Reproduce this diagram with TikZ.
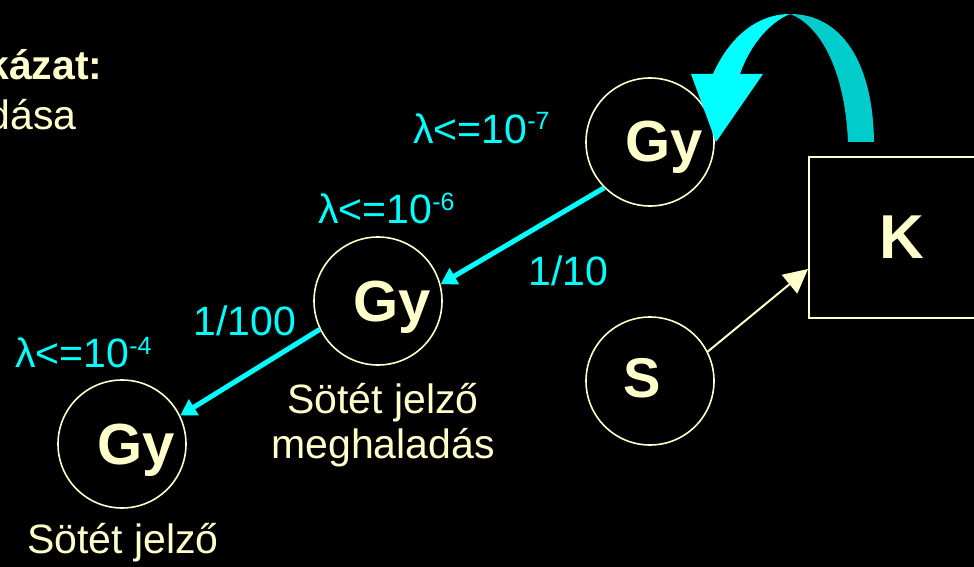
\documentclass[tikz,border=0pt]{standalone}
\usepackage{fontspec}
\setmainfont{Liberation Sans}
\usetikzlibrary{arrows.meta}
\definecolor{SlideText}{RGB}{255,255,204}
\definecolor{SlideCyan}{RGB}{0,255,255}
\definecolor{SlideTeal}{RGB}{0,204,204}
\newcommand\lamexp[1]{\raisebox{6.5pt}{\fontsize{12.5}{13}\selectfont #1}}
\tikzset{
	state/.style={circle, draw=SlideText, line width=0.8pt, minimum size=64pt, inner sep=0pt},
	statelab/.style={text=SlideText, font=\fontsize{29}{30}\selectfont\bfseries, inner sep=0pt, anchor=base},
	lam/.style={text=SlideCyan, font=\fontsize{20.5}{22.5}\selectfont, inner sep=0pt, anchor=base west},
	note/.style={text=SlideText, font=\fontsize{20.5}{22.5}\selectfont, inner sep=0pt, align=center, anchor=base},
	rate/.style={-{Triangle[length=8pt, width=9pt]}, line width=2.5pt, draw=SlideCyan},
	feed/.style={-{Triangle[length=12pt, width=12pt]}, line width=1pt, draw=SlideText}
}
\begin{document}
\begin{tikzpicture}[x=0.5pt, y=-0.5pt]
	\useasboundingbox (0,0) rectangle (974,567);
	\fill[black] (0,0) rectangle (974,567);
	\clip (0,0) rectangle (974,567);
	% title remains (cut at the left edge)
	\node[note, anchor=base east, font=\fontsize{20.5}{22.5}\selectfont\bfseries] (title) at (103,80) {kázat:};
	\node[note, anchor=base east] (subtitle) at (77,130) {dása};
	% states
	\node[state] (gy1) at (650,142) {};
	\node[state] (gy2) at (378,301) {};
	\node[state] (gy3) at (122,444) {};
	\node[state] (s) at (650,381) {};
	\node[draw=SlideText, line width=1pt, minimum width=93pt, minimum height=80.5pt,
		text=SlideText, font=\fontsize{31}{32}\selectfont\bfseries] (k) at (902,237) {K};
	\node[statelab] (gy1t) at ([xshift=7pt, yshift=-10pt]gy1.center) {Gy};
	\node[statelab] (gy2t) at ([xshift=7pt, yshift=-10pt]gy2.center) {Gy};
	\node[statelab] (gy3t) at ([xshift=7pt, yshift=-10pt]gy3.center) {Gy};
	\node[statelab, font=\fontsize{28}{30}\selectfont\bfseries] (st) at ([xshift=-4pt, yshift=-8pt]s.center) {S};
	% labels
	\node[lam] (l7) at (413,143) {λ<=10\lamexp{-7}};
	\node[lam] (l6) at (318,223) {λ<=10\lamexp{-6}};
	\node[lam] (l4) at (15,367) {λ<=10\lamexp{-4}};
	\node[lam] (r10) at (528,285) {1/10};
	\node[lam] (r100) at (193,335) {1/100};
	\node[note] (n2) at (383,458) {Sötét jelző\\meghaladás};
	\node[note] (n3) at (123,553) {Sötét jelző};
	% arrows
	\draw[rate] (gy1.225) -- (gy2.15);
	\draw[rate] (gy2.206) -- (gy3.26);
	\draw[feed] (s.27) -- ([yshift=-16pt]k.west);
	% curved feedback arrow
	\fill[SlideTeal] (848,142) -- (874,142) .. controls (873,60) and (840,14) .. (790,14)
		.. controls (820,25) and (845,70) .. (848,142) -- cycle;
	\fill[SlideCyan] (691,74) -- (713,74) .. controls (728,40) and (755,14) .. (790,14)
		.. controls (770,22) and (750,45) .. (740,74) -- (763,74) -- (716,142) -- cycle;
\end{tikzpicture}
\end{document}
